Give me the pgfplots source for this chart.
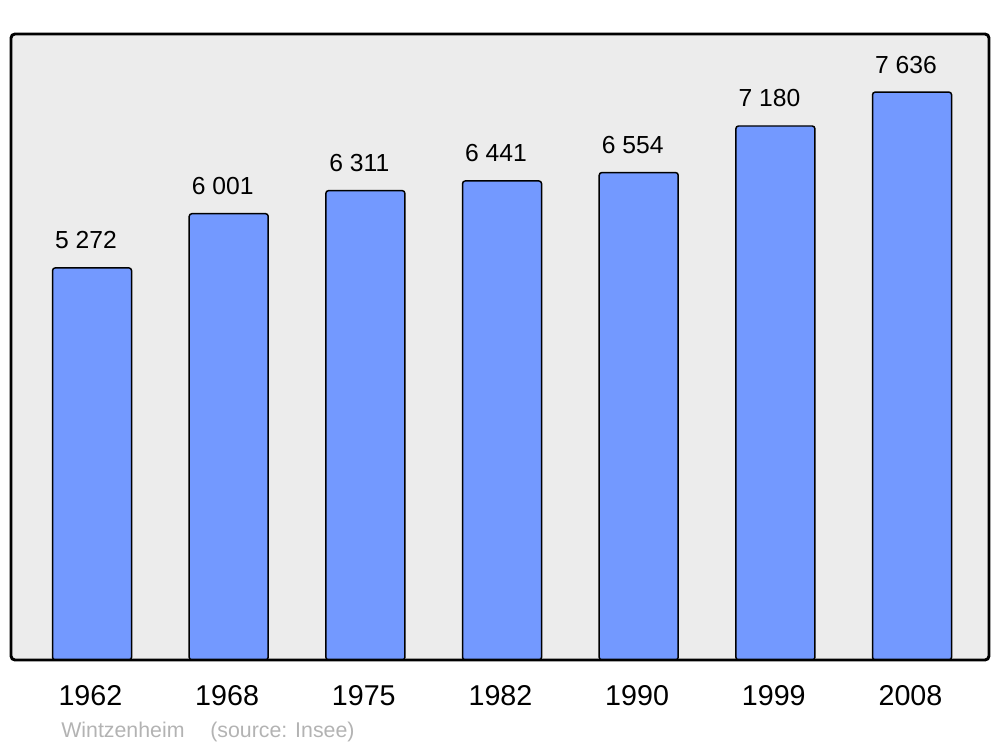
\documentclass[border=0pt]{standalone}
\usepackage{pgfplots}
\pgfplotsset{compat=1.18}
\usepackage{fontspec}
\setmainfont{Liberation Sans}
\definecolor{barfill}{HTML}{7399FF}
\definecolor{bgcol}{HTML}{ECECEC}
\definecolor{capgray}{HTML}{B3B3B3}
\begin{document}
\begin{tikzpicture}
\useasboundingbox (0,0) rectangle (750pt,560.25pt);
\begin{axis}[
  at={(8.25pt,65.25pt)}, anchor=south west,
  scale only axis, width=733.5pt, height=469.5pt,
  xmin=-0.593, xmax=6.563, ymin=0, ymax=8417,
  axis line style={draw=none},
  axis background/.style={fill=bgcol, rounded corners=3pt},
  xtick={0,1,2,3,4,5,6},
  xticklabels={1962,1968,1975,1982,1990,1999,2008},
  ytick=\empty,
  major tick length=0pt,
  xticklabel style={anchor=base, yshift=-33.75pt, xshift=-1.2pt, font=\fontsize{21.5}{25}\selectfont},
  clip=false,
  /pgf/number format/.cd, 1000 sep={\ }, assume math mode=true,
  /pgfplots/.cd,
  nodes near coords,
  every node near coord/.append style={anchor=base, yshift=14.25pt, xshift=-4.5pt, font=\fontsize{18.5}{22}\selectfont, black},
]
\addplot[ybar, bar width=59.25pt, fill=barfill, draw=black, line width=1.1pt, rounded corners=2pt]
  coordinates {(0,5272) (1,6001) (2,6311) (3,6441) (4,6554) (5,7180) (6,7636)};
\draw[line width=2.2pt, rounded corners=3pt] (rel axis cs:0,0) rectangle (rel axis cs:1,1);
\end{axis}
\node[anchor=base west, inner sep=0pt, text=capgray, font=\fontsize{16}{19}\selectfont] at (45.75pt,7.5pt) {Wintzenheim};
\node[anchor=base west, inner sep=0pt, text=capgray, font=\fontsize{16}{19}\selectfont] at (157.5pt,7.5pt) {(source: Insee)};
\end{tikzpicture}
\end{document}
